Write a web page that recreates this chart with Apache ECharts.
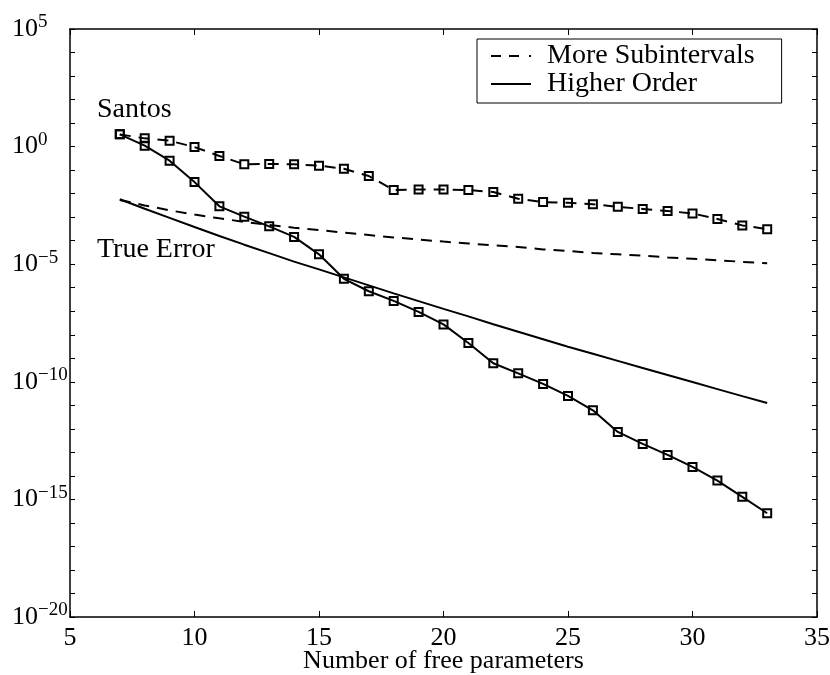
<!DOCTYPE html>
<html><head><meta charset="utf-8">
<script src="https://cdn.jsdelivr.net/npm/echarts@6/dist/echarts.min.js"></script>
<style>html,body{margin:0;padding:0;background:#fff}#c{width:830px;height:675px}</style>
</head><body><div id="c"></div>
<script>
// Number of free parameters
const nParams = [7,8,9,10,11,12,13,14,15,16,17,18,19,20,21,22,23,24,25,26,27,28,29,30,31,32,33];
// log10 of error values
const santosSubLog10 = [0.52,0.35,0.25,-0.02,-0.40,-0.75,-0.74,-0.75,-0.81,-0.94,-1.25,-1.85,-1.82,-1.82,-1.85,-1.93,-2.22,-2.36,-2.39,-2.45,-2.56,-2.65,-2.74,-2.84,-3.08,-3.35,-3.51];
const santosHighLog10 = [0.52,0.04,-0.60,-1.51,-2.54,-2.98,-3.39,-3.84,-4.58,-5.62,-6.15,-6.56,-7.03,-7.56,-8.35,-9.21,-9.64,-10.09,-10.60,-11.21,-12.13,-12.64,-13.11,-13.62,-14.20,-14.89,-15.59];
const trueSubLog10 = [-2.27,-2.50,-2.71,-2.89,-3.05,-3.20,-3.33,-3.45,-3.55,-3.66,-3.76,-3.86,-3.95,-4.04,-4.12,-4.20,-4.27,-4.37,-4.44,-4.52,-4.58,-4.64,-4.71,-4.77,-4.83,-4.90,-4.96];
const trueHighLog10 = [-2.24,-2.64,-3.03,-3.42,-3.80,-4.17,-4.53,-4.89,-5.22,-5.56,-5.90,-6.24,-6.57,-6.90,-7.22,-7.55,-7.87,-8.19,-8.51,-8.81,-9.11,-9.41,-9.71,-10.01,-10.31,-10.61,-10.90];
const legendNames = ['More Subintervals','Higher Order'];
const annotations = ['Santos','True Error'];
const xAxisTitle = 'Number of free parameters';

const FONT = '"Liberation Serif", "Times New Roman", serif';
function toPairs(logs){ return nParams.map((n,i)=>[n, Math.pow(10, logs[i])]); }
function yLabel(v){
  const e = Math.round(Math.log10(v));
  if (e % 5 !== 0) return '';
  const s = e < 0 ? '\u2212' + (-e) : '' + e;
  return '{b|10}{e|' + s + '}';
}
const chart = echarts.init(document.getElementById('c'), null, {renderer:'canvas'});
const axisLineStyle = {color:'#000', width:1.5};
const xBase = {type:'value', min:5, max:35, interval:5, splitLine:{show:false},
  axisLine:{show:true, onZero:false, lineStyle:axisLineStyle},
  axisTick:{show:true, inside:true, length:6, lineStyle:{color:'#000', width:1}}};
const yBase = {type:'log', logBase:10, min:1e-20, max:1e5, interval:1, splitLine:{show:false}, minorTick:{show:false},
  axisLine:{show:true, lineStyle:axisLineStyle},
  axisTick:{show:true, inside:true, length:5, lineStyle:{color:'#000', width:1}}};
const markerStyle = {color:'rgba(0,0,0,0)', borderColor:'#000', borderWidth:2};
const dashIcon = 'path://M0,0h10v2h-10zM18,0h10v2h-10zM38,0h2v2h-2z';
const solidIcon = 'path://M0,0h40v2h-40z';
chart.setOption({
  animation:false,
  backgroundColor:'#fff',
  grid:{left:70, right:13, top:29, bottom:58, containLabel:false, outerBoundsMode:'none'},
  xAxis:[
    Object.assign({}, xBase, {position:'bottom',
      axisLabel:{fontFamily:FONT, fontSize:26, color:'#000', margin:8},
      name:xAxisTitle, nameLocation:'middle', nameGap:31, nameMoveOverlap:false,
      nameTextStyle:{fontFamily:FONT, fontSize:26, color:'#000'}}),
    Object.assign({}, xBase, {position:'top', axisLabel:{show:false}})
  ],
  yAxis:[
    Object.assign({}, yBase, {position:'left',
      axisLabel:{align:'left', margin:58, color:'#000', formatter:yLabel,
        rich:{b:{fontFamily:FONT, fontSize:26, lineHeight:32, color:'#000'},
              e:{fontFamily:FONT, fontSize:19, lineHeight:19, verticalAlign:'top', color:'#000'}}}}),
    Object.assign({}, yBase, {position:'right', axisLabel:{show:false}})
  ],
  legend:{data:[{name:legendNames[0], icon:dashIcon},{name:legendNames[1], icon:solidIcon}],
    left:477, top:39, orient:'vertical', borderColor:'#000', borderWidth:1, symbolKeepAspect:true,
    backgroundColor:'#fff', padding:[3,27,5,14], itemGap:0, itemWidth:40, itemHeight:14,
    textStyle:{fontFamily:FONT, fontSize:28, color:'#000', padding:[0,0,0,11]}},
  graphic:[
    {type:'text', left:97, top:96, style:{text:annotations[0], font:'28px "Liberation Serif"', fill:'#000'}},
    {type:'text', left:97, top:236, style:{text:annotations[1], font:'28px "Liberation Serif"', fill:'#000'}}
  ],
  series:[
    {name:legendNames[0], type:'line', data:toPairs(trueSubLog10), symbol:'none',
      lineStyle:{color:'#000', width:2, type:[11,8]}, itemStyle:{color:'#000'}},
    {name:legendNames[1], type:'line', data:toPairs(trueHighLog10), symbol:'none',
      lineStyle:{color:'#000', width:2, type:'solid'}, itemStyle:{color:'#000'}},
    {name:'Santos ' + legendNames[0], type:'line', data:toPairs(santosSubLog10), symbol:'rect', symbolSize:8,
      showSymbol:true, lineStyle:{color:'#000', width:2, type:[11,8]}, itemStyle:markerStyle},
    {name:'Santos ' + legendNames[1], type:'line', data:toPairs(santosHighLog10), symbol:'rect', symbolSize:8,
      showSymbol:true, lineStyle:{color:'#000', width:2, type:'solid'}, itemStyle:markerStyle}
  ]
});
</script></body></html>
